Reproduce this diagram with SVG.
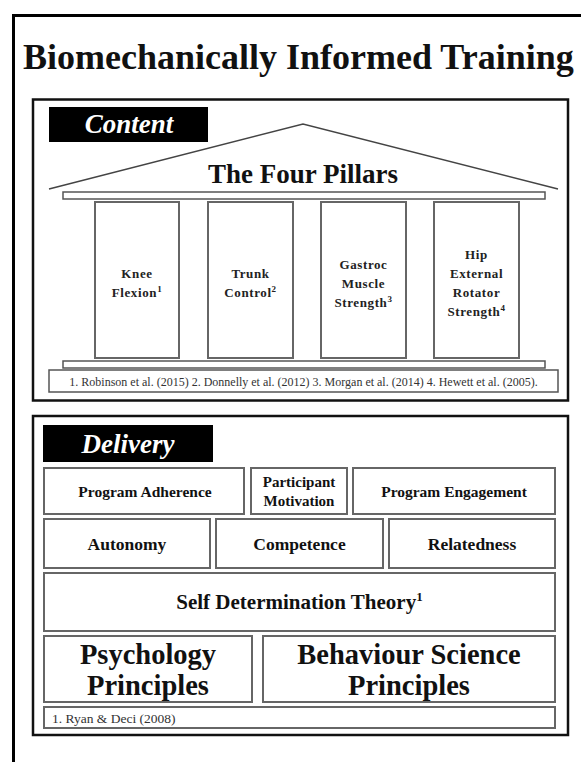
<svg xmlns="http://www.w3.org/2000/svg" width="581" height="762" viewBox="0 0 581 762">
  <style>
    .serif { font-family: "Liberation Serif", "Times New Roman", serif; }
    .frame { fill: none; stroke: #000; stroke-width: 3; }
    .panel { fill: #fff; stroke: #111; stroke-width: 2.5; }
    .tag { fill: #000; }
    .tagtxt { font-family: "Liberation Serif", serif; font-style: italic; font-weight: bold; font-size: 27px; fill: #fff; text-anchor: middle; }
    .roof { fill: none; stroke: #444; stroke-width: 1.5; }
    .beam { fill: #fff; stroke: #555; stroke-width: 1.5; }
    .pillar { fill: #fff; stroke: #666; stroke-width: 2; }
    .ptxt { font-family: "Liberation Serif", serif; font-weight: bold; font-size: 13px; letter-spacing: 0.6px; fill: #222; text-anchor: middle; }
    .box { fill: #fff; stroke: #666; stroke-width: 2; }
    .btxt { font-family: "Liberation Serif", serif; font-weight: bold; fill: #111; text-anchor: middle; }
    .ref { font-family: "Liberation Serif", serif; fill: #333; }
  </style>

  <!-- outer frame, open past the page edge on the right and bottom -->
  <rect class="frame" x="13.5" y="15.5" width="620" height="800"/>

  <text class="serif" x="23" y="69" font-size="36" font-weight="bold" fill="#111">Biomechanically Informed Training</text>

  <!-- Content panel -->
  <g id="content">
    <rect class="panel" x="33" y="99.5" width="535" height="301"/>
    <rect class="tag" x="49" y="107" width="159" height="35"/>
    <text class="tagtxt" x="129" y="133">Content</text>
  </g>

  <g id="roof">
    <polyline class="roof" points="49,189 303,124 558,189"/>
    <text class="serif" x="303" y="183" font-size="27" font-weight="bold" fill="#111" text-anchor="middle">The Four Pillars</text>
    <rect class="beam" x="63" y="192" width="482" height="7"/>
  </g>

  <g id="pillar-knee">
    <rect class="pillar" x="95" y="202" width="84" height="156"/>
    <text class="ptxt" x="137" y="278">Knee</text>
    <text class="ptxt" x="137" y="297">Flexion<tspan font-size="9" dy="-5">1</tspan></text>
  </g>
  <g id="pillar-trunk">
    <rect class="pillar" x="208" y="202" width="85" height="156"/>
    <text class="ptxt" x="250.5" y="278">Trunk</text>
    <text class="ptxt" x="250.5" y="297">Control<tspan font-size="9" dy="-5">2</tspan></text>
  </g>
  <g id="pillar-gastroc">
    <rect class="pillar" x="321" y="202" width="85" height="156"/>
    <text class="ptxt" x="363.5" y="268.5">Gastroc</text>
    <text class="ptxt" x="363.5" y="287.5">Muscle</text>
    <text class="ptxt" x="363.5" y="306.5">Strength<tspan font-size="9" dy="-5">3</tspan></text>
  </g>
  <g id="pillar-hip">
    <rect class="pillar" x="434" y="202" width="85" height="156"/>
    <text class="ptxt" x="476.5" y="259">Hip</text>
    <text class="ptxt" x="476.5" y="278">External</text>
    <text class="ptxt" x="476.5" y="297">Rotator</text>
    <text class="ptxt" x="476.5" y="316">Strength<tspan font-size="9" dy="-5">4</tspan></text>
  </g>

  <g id="base">
    <rect class="beam" x="63" y="361" width="482" height="7"/>
    <rect class="beam" x="49" y="370" width="509" height="22"/>
    <text class="ref" x="303.5" y="385.5" font-size="12" text-anchor="middle">1. Robinson et al. (2015) 2. Donnelly et al. (2012) 3. Morgan et al. (2014) 4. Hewett et al. (2005).</text>
  </g>

  <!-- Delivery panel -->
  <g id="delivery">
    <rect class="panel" x="33" y="416" width="535" height="319" stroke-width="3"/>
    <rect class="tag" x="43" y="425" width="170" height="37"/>
    <text class="tagtxt" x="128" y="453">Delivery</text>
  </g>

  <g id="program-adherence">
    <rect class="box" x="44" y="468" width="200" height="46"/>
    <text class="btxt" x="145" y="497" font-size="15.5">Program Adherence</text>
  </g>
  <g id="participant-motivation">
    <rect class="box" x="251" y="468" width="96" height="46"/>
    <text class="btxt" x="299" y="487" font-size="15">Participant</text>
    <text class="btxt" x="299" y="506" font-size="15">Motivation</text>
  </g>
  <g id="program-engagement">
    <rect class="box" x="353" y="468" width="202" height="46"/>
    <text class="btxt" x="454" y="497" font-size="15.5">Program  Engagement</text>
  </g>

  <g id="autonomy">
    <rect class="box" x="44" y="519" width="166" height="49"/>
    <text class="btxt" x="127" y="550" font-size="17.5">Autonomy</text>
  </g>
  <g id="competence">
    <rect class="box" x="216" y="519" width="167" height="49"/>
    <text class="btxt" x="299.5" y="550" font-size="17.5">Competence</text>
  </g>
  <g id="relatedness">
    <rect class="box" x="389" y="519" width="166" height="49"/>
    <text class="btxt" x="472" y="550" font-size="17.5">Relatedness</text>
  </g>

  <g id="self-determination">
    <rect class="box" x="44" y="573" width="511" height="58"/>
    <text class="btxt" x="299.5" y="609" font-size="21">Self Determination Theory<tspan font-size="13" dy="-8">1</tspan></text>
  </g>

  <g id="psychology">
    <rect class="box" x="44" y="636" width="208" height="66"/>
    <text class="btxt" x="148" y="664" font-size="28.5">Psychology</text>
    <text class="btxt" x="148" y="695" font-size="28.5">Principles</text>
  </g>
  <g id="behaviour-science">
    <rect class="box" x="263" y="636" width="292" height="66"/>
    <text class="btxt" x="409" y="664" font-size="28.5">Behaviour Science</text>
    <text class="btxt" x="409" y="695" font-size="28.5">Principles</text>
  </g>

  <g id="delivery-ref">
    <rect class="box" x="44" y="707" width="511" height="21"/>
    <text class="ref" x="52" y="722.5" font-size="13.5">1. Ryan &amp; Deci (2008)</text>
  </g>
</svg>
